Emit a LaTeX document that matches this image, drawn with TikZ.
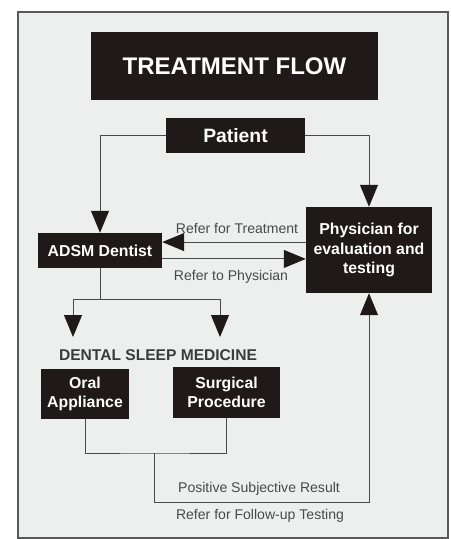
\documentclass[tikz,border=0pt]{standalone}
\usepackage{fontspec}
\setmainfont{Liberation Sans}
\usetikzlibrary{arrows.meta}
\definecolor{boxfill}{HTML}{201919}
\definecolor{paper}{HTML}{ECEFEE}
\definecolor{rule}{HTML}{4A4A4A}
\tikzset{
  darkbox/.style={draw=none,fill=boxfill,text=white,align=center,inner sep=0pt,font=\bfseries\fontsize{13.5}{16.5}\selectfont},
  link/.style={draw=rule,line width=0.8pt},
  flow/.style={link,-{Triangle[length=0.66cm,width=0.54cm,fill=boxfill,color=boxfill]}},
  tag/.style={text=rule,font=\fontsize{12}{14}\selectfont,inner sep=1pt}
}
\begin{document}
\begin{tikzpicture}[x=0.03cm,y=-0.03cm]
\useasboundingbox (0,0) rectangle (450,539);
\fill[white] (0,0) rectangle (450,539);
\draw[draw=gray!70!black,fill=paper,line width=1.5pt] (18,12) rectangle (448,538);
% boxes
\node[darkbox,minimum width=8.61cm,minimum height=2.04cm,font=\bfseries\fontsize{20.5}{24}\selectfont] (title) at (234.5,66) {TREATMENT FLOW};
\node[darkbox,minimum width=4.17cm,minimum height=1.05cm,font=\bfseries\fontsize{16.5}{19}\selectfont] (patient) at (235.5,135.5) {Patient};
\node[darkbox,minimum width=3.72cm,minimum height=1.05cm] (adsm) at (100,250.5) {ADSM Dentist};
\node[darkbox,minimum width=3.78cm,minimum height=2.58cm] (phys) at (369,250) {Physician for\\evaluation and\\testing};
\node[text=rule!80!black,font=\bfseries\fontsize{13.3}{15}\selectfont,inner sep=1pt] (dsm) at (158,355) {DENTAL SLEEP MEDICINE};
\node[darkbox,minimum width=2.64cm,minimum height=1.5cm] (oral) at (85,394) {Oral\\Appliance};
\node[darkbox,minimum width=3.21cm,minimum height=1.53cm] (surg) at (226.5,392.5) {Surgical\\Procedure};
% connectors
\draw[flow] (patient.west) -| (adsm.north);
\draw[flow] (patient.east) -| (phys.north);
\draw[flow] ([yshift=7.2pt]phys.west |- adsm.east) -- ([yshift=7.2pt]adsm.east);
\draw[flow] ([yshift=-7.2pt]adsm.east) -- ([yshift=-7.2pt]phys.west |- adsm.east);
\node[tag] (treat) at (237,228) {Refer for Treatment};
\node[tag] (tophys) at (231,277) {Refer to Physician};
\coordinate (split) at (100,299);
\coordinate (leftend) at (73,337);
\coordinate (rightend) at (220,337);
\draw[link] (adsm.south) -- (split);
\draw[flow] (split) -| (leftend);
\draw[flow] (split) -| (rightend);
\coordinate (join) at (154,453);
\coordinate (back) at (154,502);
\draw[link] (oral.south) |- (join) -| (surg.south);
\draw[flow] (join) -- (back) -| (phys.south);
\node[tag] (pos) at (259,489) {Positive Subjective Result};
\node[tag] (follow) at (260,516) {Refer for Follow-up Testing};
\end{tikzpicture}
\end{document}
